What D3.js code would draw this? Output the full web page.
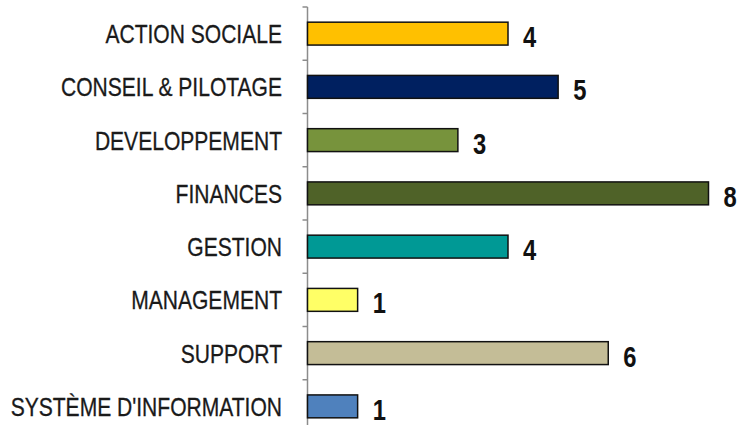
<!DOCTYPE html>
<html><head><meta charset="utf-8">
<script src="https://cdn.jsdelivr.net/npm/d3@7"></script>
<style>body{margin:0;background:#fff}svg{display:block}</style>
</head><body>
<script>
const categories = ["ACTION SOCIALE","CONSEIL & PILOTAGE","DEVELOPPEMENT","FINANCES","GESTION","MANAGEMENT","SUPPORT","SYSTÈME D'INFORMATION"];
const values = [4,5,3,8,4,1,6,1];
const colors = ["#FFC000","#002060","#77933C","#4F6228","#009995","#FFFF66","#C4BD97","#4F81BD"];

const W=750,H=425;
const svg=d3.select("body").append("svg").attr("width",W).attr("height",H);
const x=d3.scaleLinear().domain([0,8]).range([307.5,708.5]);
const y=d3.scaleBand().domain(categories).range([7,433]).paddingInner(0.57).paddingOuter(0.285);

// axis
const ag=svg.append("g").attr("transform","translate(307.5,0)");
ag.append("line").attr("y1",7).attr("y2",433).attr("stroke","#8c8c8c").attr("stroke-width",1.5);
const step=y.step();
const tickYs=d3.range(categories.length+1).map(i=>7+i*step);
ag.selectAll("line.t").data(tickYs).join("line").attr("class","t")
  .attr("x1",-5).attr("x2",0).attr("y1",d=>d).attr("y2",d=>d)
  .attr("stroke","#8c8c8c").attr("stroke-width",1.5);

// bars
svg.selectAll("rect.bar").data(categories).join("rect").attr("class","bar")
  .attr("x",x(0)).attr("y",d=>y(d))
  .attr("width",(d,i)=>x(values[i])-x(0)).attr("height",y.bandwidth())
  .attr("fill",(d,i)=>colors[i]).attr("stroke","#111").attr("stroke-width",1.5);

// category labels
svg.selectAll("text.cat").data(categories).join("text").attr("class","cat")
  .attr("transform",d=>`translate(282,${y(d)+y.bandwidth()/2+9.5}) scale(0.81,1)`)
  .attr("text-anchor","end")
  .style("font-family","'Liberation Sans',Arial,sans-serif").style("font-size","26px")
  .attr("fill","#1a1a1a").attr("stroke","#1a1a1a").attr("stroke-width",0.3).text(d=>d);

// value labels
svg.selectAll("text.val").data(categories).join("text").attr("class","val")
  .attr("transform",(d,i)=>`translate(${x(values[i])+15},${y(d)+y.bandwidth()/2+13.5}) scale(0.82,1)`)
  .style("font-family","'Liberation Sans',Arial,sans-serif").style("font-size","29px").style("font-weight","bold")
  .attr("fill","#111").text((d,i)=>values[i]);
</script>
</body></html>
